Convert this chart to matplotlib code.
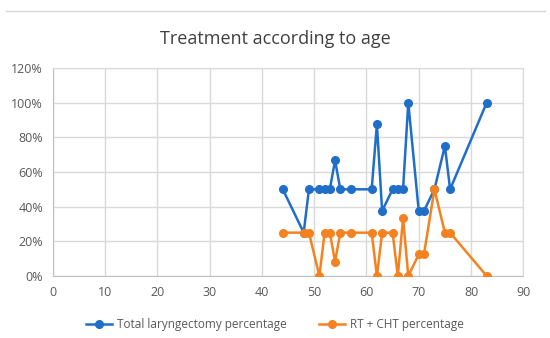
import matplotlib.pyplot as plt
from matplotlib.ticker import PercentFormatter
from matplotlib.lines import Line2D

# ── Datos ─────────────────────────────────────────────────
edad_tl = [44, 48, 49, 51, 52, 53, 54, 55, 57, 61, 62, 63, 65, 66, 67, 68,
           70, 71, 73, 75, 76, 83]
pct_tl = [50, 25, 50, 50, 50, 50, 66.7, 50, 50, 50, 87.5, 37.5, 50, 50, 50,
          100, 37.5, 37.5, 50, 75, 50, 100]

edad_rt = [44, 48, 49, 51, 52, 53, 54, 55, 57, 61, 62, 63, 65, 66, 67, 68,
           70, 71, 73, 75, 76, 83]
pct_rt = [25, 25, 25, 0, 25, 25, 8.3, 25, 25, 25, 0, 25, 25, 0, 33.3, 0,
          12.5, 12.5, 50, 25, 25, 0]

x_ticks = [0, 10, 20, 30, 40, 50, 60, 70, 80, 90]
y_ticks = [0, 20, 40, 60, 80, 100, 120]

azul = '#1f6ec9'
naranja = '#f58220'
gris = '#d9d9d9'
texto = '#595959'

plt.rcParams['font.family'] = ['Open Sans', 'DejaVu Sans']

fig = plt.figure(figsize=(5.5, 3.38), dpi=100)
ax = fig.add_axes([0.0958, 0.1834, 0.8557, 0.6156])

ax.plot(edad_tl, pct_tl, color=azul, lw=1.8, marker='o', ms=5.5,
        label='Total laryngectomy percentage', zorder=3)
ax.plot(edad_rt, pct_rt, color=naranja, lw=1.8, marker='o', ms=5.5,
        label='RT + CHT percentage', zorder=4)

ax.set_xlim(0, 90)
ax.set_ylim(0, 120)
ax.set_xticks(x_ticks)
ax.set_yticks(y_ticks)
ax.yaxis.set_major_formatter(PercentFormatter(decimals=0))
ax.grid(True, color=gris, lw=1)
ax.set_axisbelow(True)
for s in ax.spines.values():
    s.set_color(gris)
ax.spines['left'].set_color('#bfbfbf')
ax.spines['bottom'].set_color('#bfbfbf')
ax.tick_params(length=0, labelsize=9, colors=texto, pad=7)

fig.text(0.5, 0.885, 'Treatment according to age', ha='center', va='center',
         fontsize=13, color='#404040')

# línea superior del marco
fig.add_artist(Line2D([0.01, 0.99], [0.967, 0.967], color=gris, lw=1))

fig.legend(*ax.get_legend_handles_labels(), loc='center',
           bbox_to_anchor=(0.5, 0.04), ncol=2, frameon=False, fontsize=8.5,
           labelcolor=texto, handlelength=2.2, handletextpad=0.4,
           columnspacing=2.8)

plt.savefig('out.png', dpi=100)
